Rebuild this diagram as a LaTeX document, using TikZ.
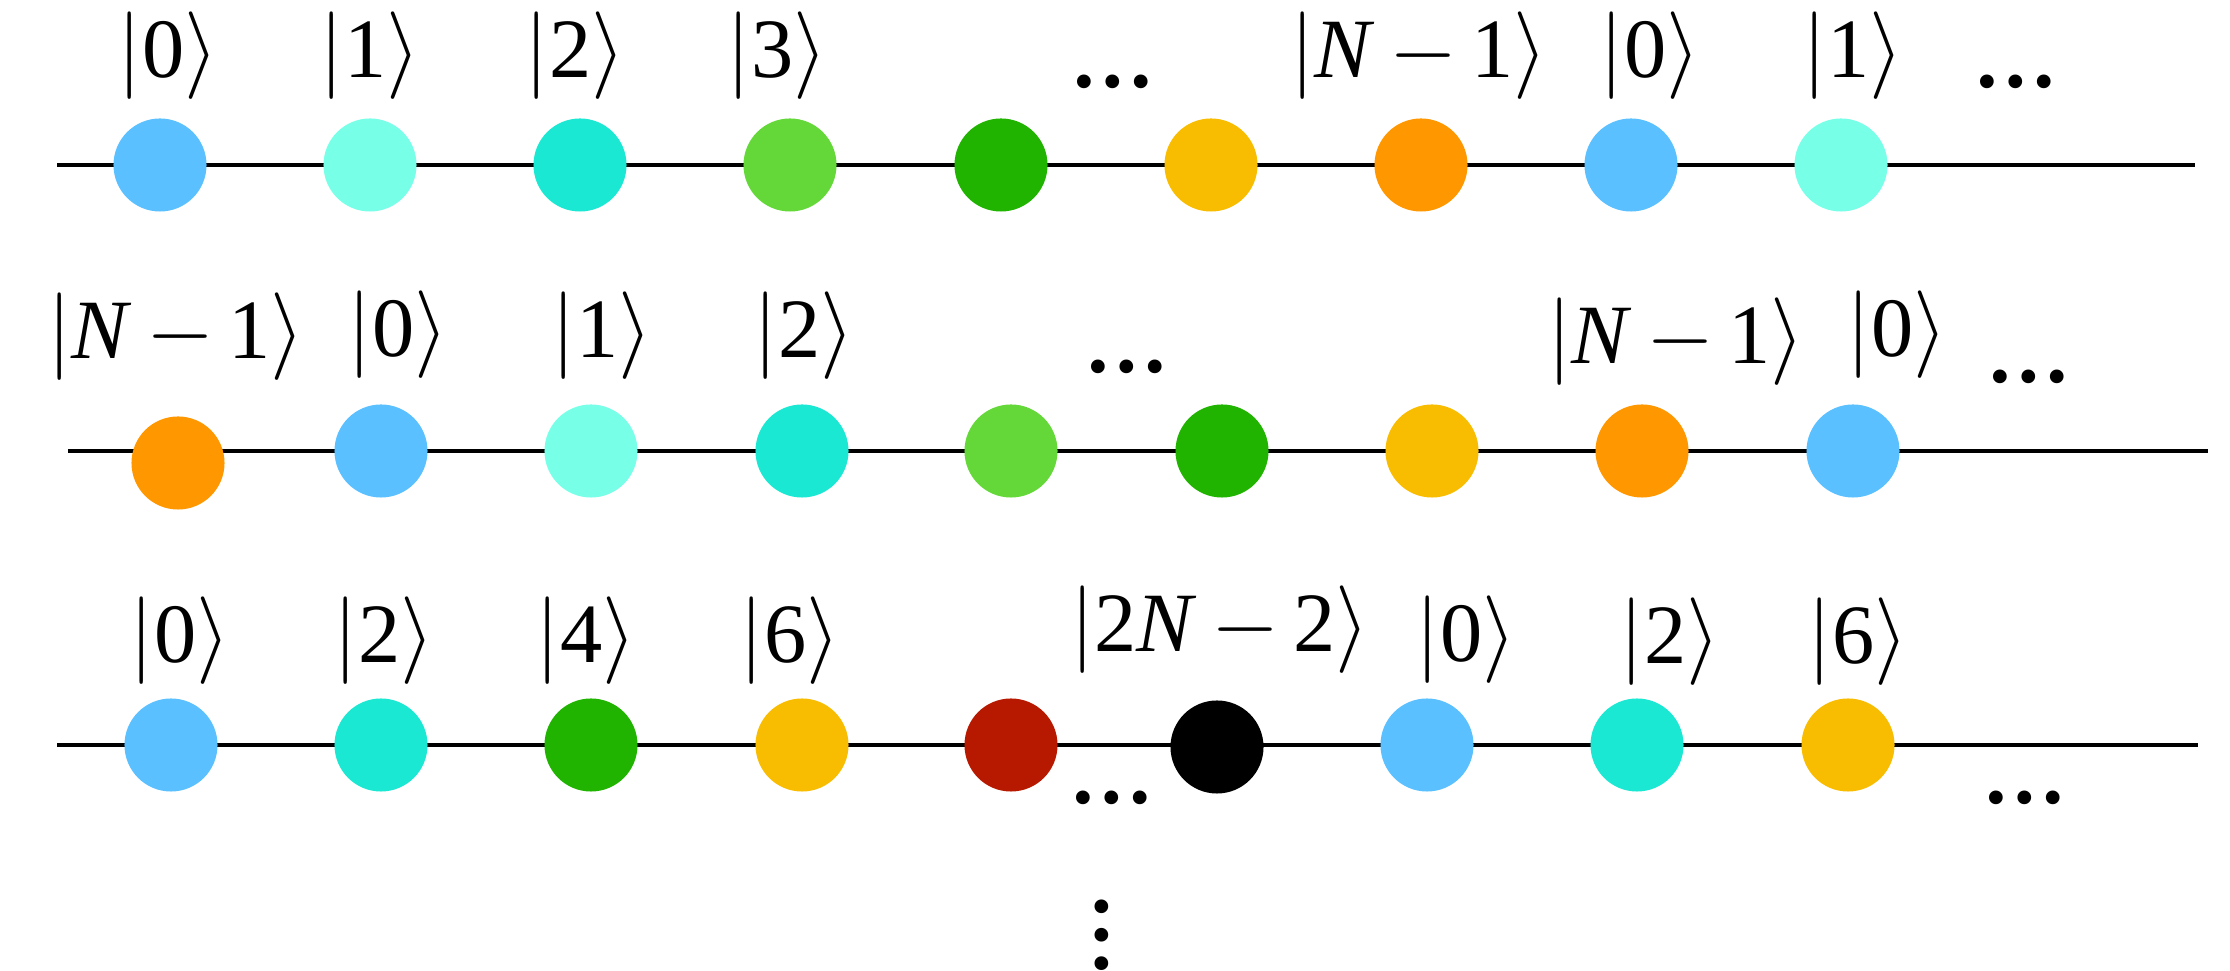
\documentclass[tikz,border=0pt]{standalone}
\usepackage{fontspec}
\setmainfont{Liberation Serif}
\definecolor{cblue}{RGB}{90,192,255}
\definecolor{clcyan}{RGB}{120,255,232}
\definecolor{ccyan}{RGB}{26,232,210}
\definecolor{clgreen}{RGB}{100,216,57}
\definecolor{cdgreen}{RGB}{32,179,0}
\definecolor{cyellow}{RGB}{248,188,0}
\definecolor{corange}{RGB}{255,151,0}
\definecolor{cred}{RGB}{183,25,0}
\definecolor{cblack}{RGB}{0,0,0}
\newcommand{\kt}[1]{$\bigl|$#1$\bigr\rangle$}
\newcommand{\Nm}[1]{\textit{N}\,$-$\,#1}
\begin{document}
\begin{tikzpicture}[x=0.01cm,y=-0.01cm,
  site/.style={circle,minimum size=0.93cm,inner sep=0pt,draw=none,fill=#1},
  lab/.style={inner sep=0pt,font=\fontsize{24}{28}\selectfont},
  ell/.style={inner sep=0pt,font=\fontsize{24}{28}\selectfont\bfseries},
  chain/.style={line width=1.15pt,black}]
\useasboundingbox (0,0) rectangle (2230,971);
% ---------- row 1 ----------
\coordinate (r1s) at (57,165);
\coordinate (r1e) at (2195,165);
\draw[chain] (r1s) -- (r1e);
\node[site=cblue]   (a1) at (160,165) {};
\node[site=clcyan]  (a2) at (370,165) {};
\node[site=ccyan]   (a3) at (580,165) {};
\node[site=clgreen] (a4) at (790,165) {};
\node[site=cdgreen] (a5) at (1001,165) {};
\node[site=cyellow] (a6) at (1211,165) {};
\node[site=corange] (a7) at (1421,165) {};
\node[site=cblue]   (a8) at (1631,165) {};
\node[site=clcyan]  (a9) at (1841,165) {};
\node[lab] (la1) at (168,56) {\kt{0}};
\node[lab] (la2) at (370,56) {\kt{1}};
\node[lab] (la3) at (575,56) {\kt{2}};
\node[lab] (la4) at (777,56) {\kt{3}};
\node[ell] (da1) at (1113,82) {…};
\node[lab] (la7) at (1419,56) {\kt{\Nm{1}}};
\node[lab] (la8) at (1650,56) {\kt{0}};
\node[lab] (la9) at (1853,56) {\kt{1}};
\node[ell] (da2) at (2016,82) {…};
% ---------- row 2 ----------
\coordinate (r2s) at (68,451);
\coordinate (r2e) at (2208,451);
\draw[chain] (r2s) -- (r2e);
\node[site=corange] (b1) at (178,463) {};
\node[site=cblue]   (b2) at (381,451) {};
\node[site=clcyan]  (b3) at (591,451) {};
\node[site=ccyan]   (b4) at (802,451) {};
\node[site=clgreen] (b5) at (1011,451) {};
\node[site=cdgreen] (b6) at (1222,451) {};
\node[site=cyellow] (b7) at (1432,451) {};
\node[site=corange] (b8) at (1642,451) {};
\node[site=cblue]   (b9) at (1853,451) {};
\node[lab] (lb1) at (176,337) {\kt{\Nm{1}}};
\node[lab] (lb2) at (398,335) {\kt{0}};
\node[lab] (lb3) at (602,336) {\kt{1}};
\node[lab] (lb4) at (804,336) {\kt{2}};
\node[ell] (db1) at (1127,367) {…};
\node[lab] (lb8) at (1676,342) {\kt{\Nm{1}}};
\node[lab] (lb9) at (1897,335) {\kt{0}};
\node[ell] (db2) at (2029,377) {…};
% ---------- row 3 ----------
\coordinate (r3s) at (57,745);
\coordinate (r3e) at (2198,745);
\draw[chain] (r3s) -- (r3e);
\node[site=cblue]   (c1) at (171,745) {};
\node[site=ccyan]   (c2) at (381,745) {};
\node[site=cdgreen] (c3) at (591,745) {};
\node[site=cyellow] (c4) at (802,745) {};
\node[site=cred]    (c5) at (1011,745) {};
\node[site=cblack]  (c6) at (1217,747) {};
\node[site=cblue]   (c7) at (1427,745) {};
\node[site=ccyan]   (c8) at (1637,745) {};
\node[site=cyellow] (c9) at (1848,745) {};
\node[lab] (lc1) at (180,641) {\kt{0}};
\node[lab] (lc2) at (384,641) {\kt{2}};
\node[lab] (lc3) at (586,641) {\kt{4}};
\node[lab] (lc4) at (790,641) {\kt{6}};
\node[lab] (lc6) at (1220,630) {\kt{2\Nm{2}}};
\node[lab] (lc7) at (1466,640) {\kt{0}};
\node[lab] (lc8) at (1670,642) {\kt{2}};
\node[lab] (lc9) at (1858,642) {\kt{6}};
\node[ell] (dc1) at (1112,798) {…};
\node[ell] (dc2) at (2025,798) {…};
% ---------- vertical dots ----------
\node[ell,rotate=90] (vd) at (1102,935) {…};
\end{tikzpicture}
\end{document}
